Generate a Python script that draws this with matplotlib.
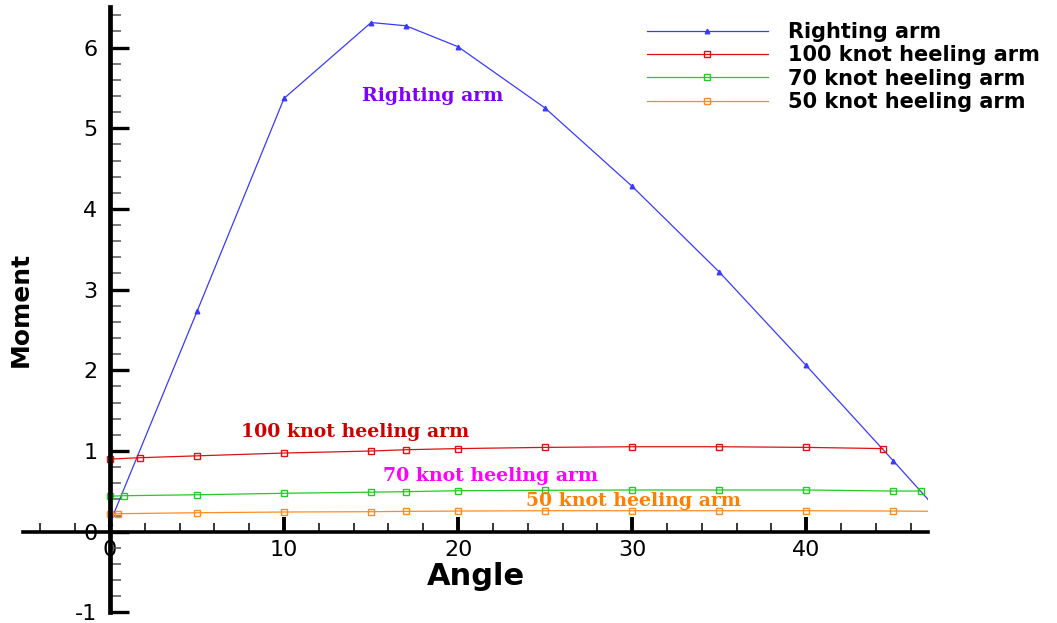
import numpy as np
import matplotlib.pyplot as plt
from matplotlib.ticker import MultipleLocator

plt.rcParams['axes.unicode_minus'] = False

# Curvas de estabilidade: braço de endireitamento e braços de banda por vento
ang_endireitamento = [0, 5, 10, 15, 17, 20, 25, 30, 35, 40, 45, 50]
mom_endireitamento = [0.11, 2.73, 5.37, 6.31, 6.27, 6.01, 5.25, 4.28, 3.22, 2.06, 0.88, -0.32]

ang_100 = [0, 1.7, 5, 10, 15, 17, 20, 25, 30, 35, 40, 44.4]
mom_100 = [0.90, 0.917, 0.94, 0.975, 1.0, 1.016, 1.03, 1.045, 1.053, 1.053, 1.045, 1.03]

ang_70 = [0, 0.8, 5, 10, 15, 17, 20, 25, 30, 35, 40, 45, 46.6]
mom_70 = [0.44, 0.446, 0.458, 0.476, 0.49, 0.496, 0.508, 0.513, 0.517, 0.517, 0.517, 0.504, 0.504]

ang_50 = [0, 0.43, 5, 10, 15, 17, 20, 25, 30, 35, 40, 45, 50]
mom_50 = [0.223, 0.223, 0.235, 0.244, 0.248, 0.252, 0.256, 0.26, 0.26, 0.26, 0.26, 0.256, 0.25]

fig = plt.figure(figsize=(10.57, 6.23), dpi=100)
ax = fig.add_axes([23 / 1057, 10.6 / 623, 905 / 1057, 605.2 / 623])

ax.plot(ang_endireitamento, mom_endireitamento, color='#3a3aff', lw=0.9, marker='^',
        ms=3.3, mfc='#3a3aff', mec='#3a3aff', label='Righting arm')
ax.plot(ang_100, mom_100, color='#dd1111', lw=0.9, marker='s', ms=4, mfc='none',
        mec='#dd1111', label='100 knot heeling arm')
ax.plot(ang_70, mom_70, color='#22cc22', lw=0.9, marker='s', ms=4, mfc='none',
        mec='#22cc22', label='70 knot heeling arm')
ax.plot(ang_50, mom_50, color='#ff8c22', lw=0.9, marker='s', ms=4, mfc='none',
        mec='#ff8c22', label='50 knot heeling arm')

ax.set_xlim(-5, 47)
ax.set_ylim(-1, 6.5)

# Eixos cruzando na origem
ax.spines['left'].set_position(('data', 0))
ax.spines['bottom'].set_position(('data', 0))
ax.spines['right'].set_visible(False)
ax.spines['top'].set_visible(False)
ax.spines['left'].set_linewidth(3.4)
ax.spines['bottom'].set_linewidth(2.6)

ax.set_xticks([0, 10, 20, 30, 40])
ax.xaxis.set_minor_locator(MultipleLocator(2))
ax.yaxis.set_major_locator(MultipleLocator(1))
ax.yaxis.set_minor_locator(MultipleLocator(0.2))
ax.tick_params(axis='both', which='major', direction='in', labelsize=16)
ax.tick_params(axis='x', which='major', length=11, width=2.8, pad=6)
ax.tick_params(axis='x', which='minor', direction='in', length=6.5, width=1.1)
ax.tick_params(axis='y', which='major', length=14, width=2.4, pad=9)
ax.tick_params(axis='y', which='minor', direction='in', length=8, width=1.1, color='#555555')

ax.set_xlabel('Angle', fontsize=22, fontweight='bold')
ax.xaxis.set_label_coords(0.5, 0.084)
ax.set_ylabel('Moment', fontsize=18, fontweight='bold')
ax.yaxis.set_label_coords(0.011, 0.501)

# Rótulos das curvas
serif = dict(family='DejaVu Serif', fontweight='bold', fontsize=13.6, ha='left', va='baseline')
ax.text(14.47, 5.34, 'Righting arm', color='#8000ff', **serif)
ax.text(7.5, 1.177, '100 knot heeling arm', color='#cc0000', **serif)
ax.text(15.69, 0.627, '70 knot heeling arm', color='#ff00ff', **serif)
ax.text(23.92, 0.318, '50 knot heeling arm', color='#ff8000', **serif)

ax.legend(loc='upper left', bbox_to_anchor=(647 / 1057, 1 - 22 / 623),
          bbox_transform=fig.transFigure, frameon=False, numpoints=1,
          handlelength=5.8, handletextpad=0.95, labelspacing=0.16,
          borderpad=0, borderaxespad=0,
          prop={'weight': 'bold', 'size': 15})

fig.savefig('out.png', dpi=100)
